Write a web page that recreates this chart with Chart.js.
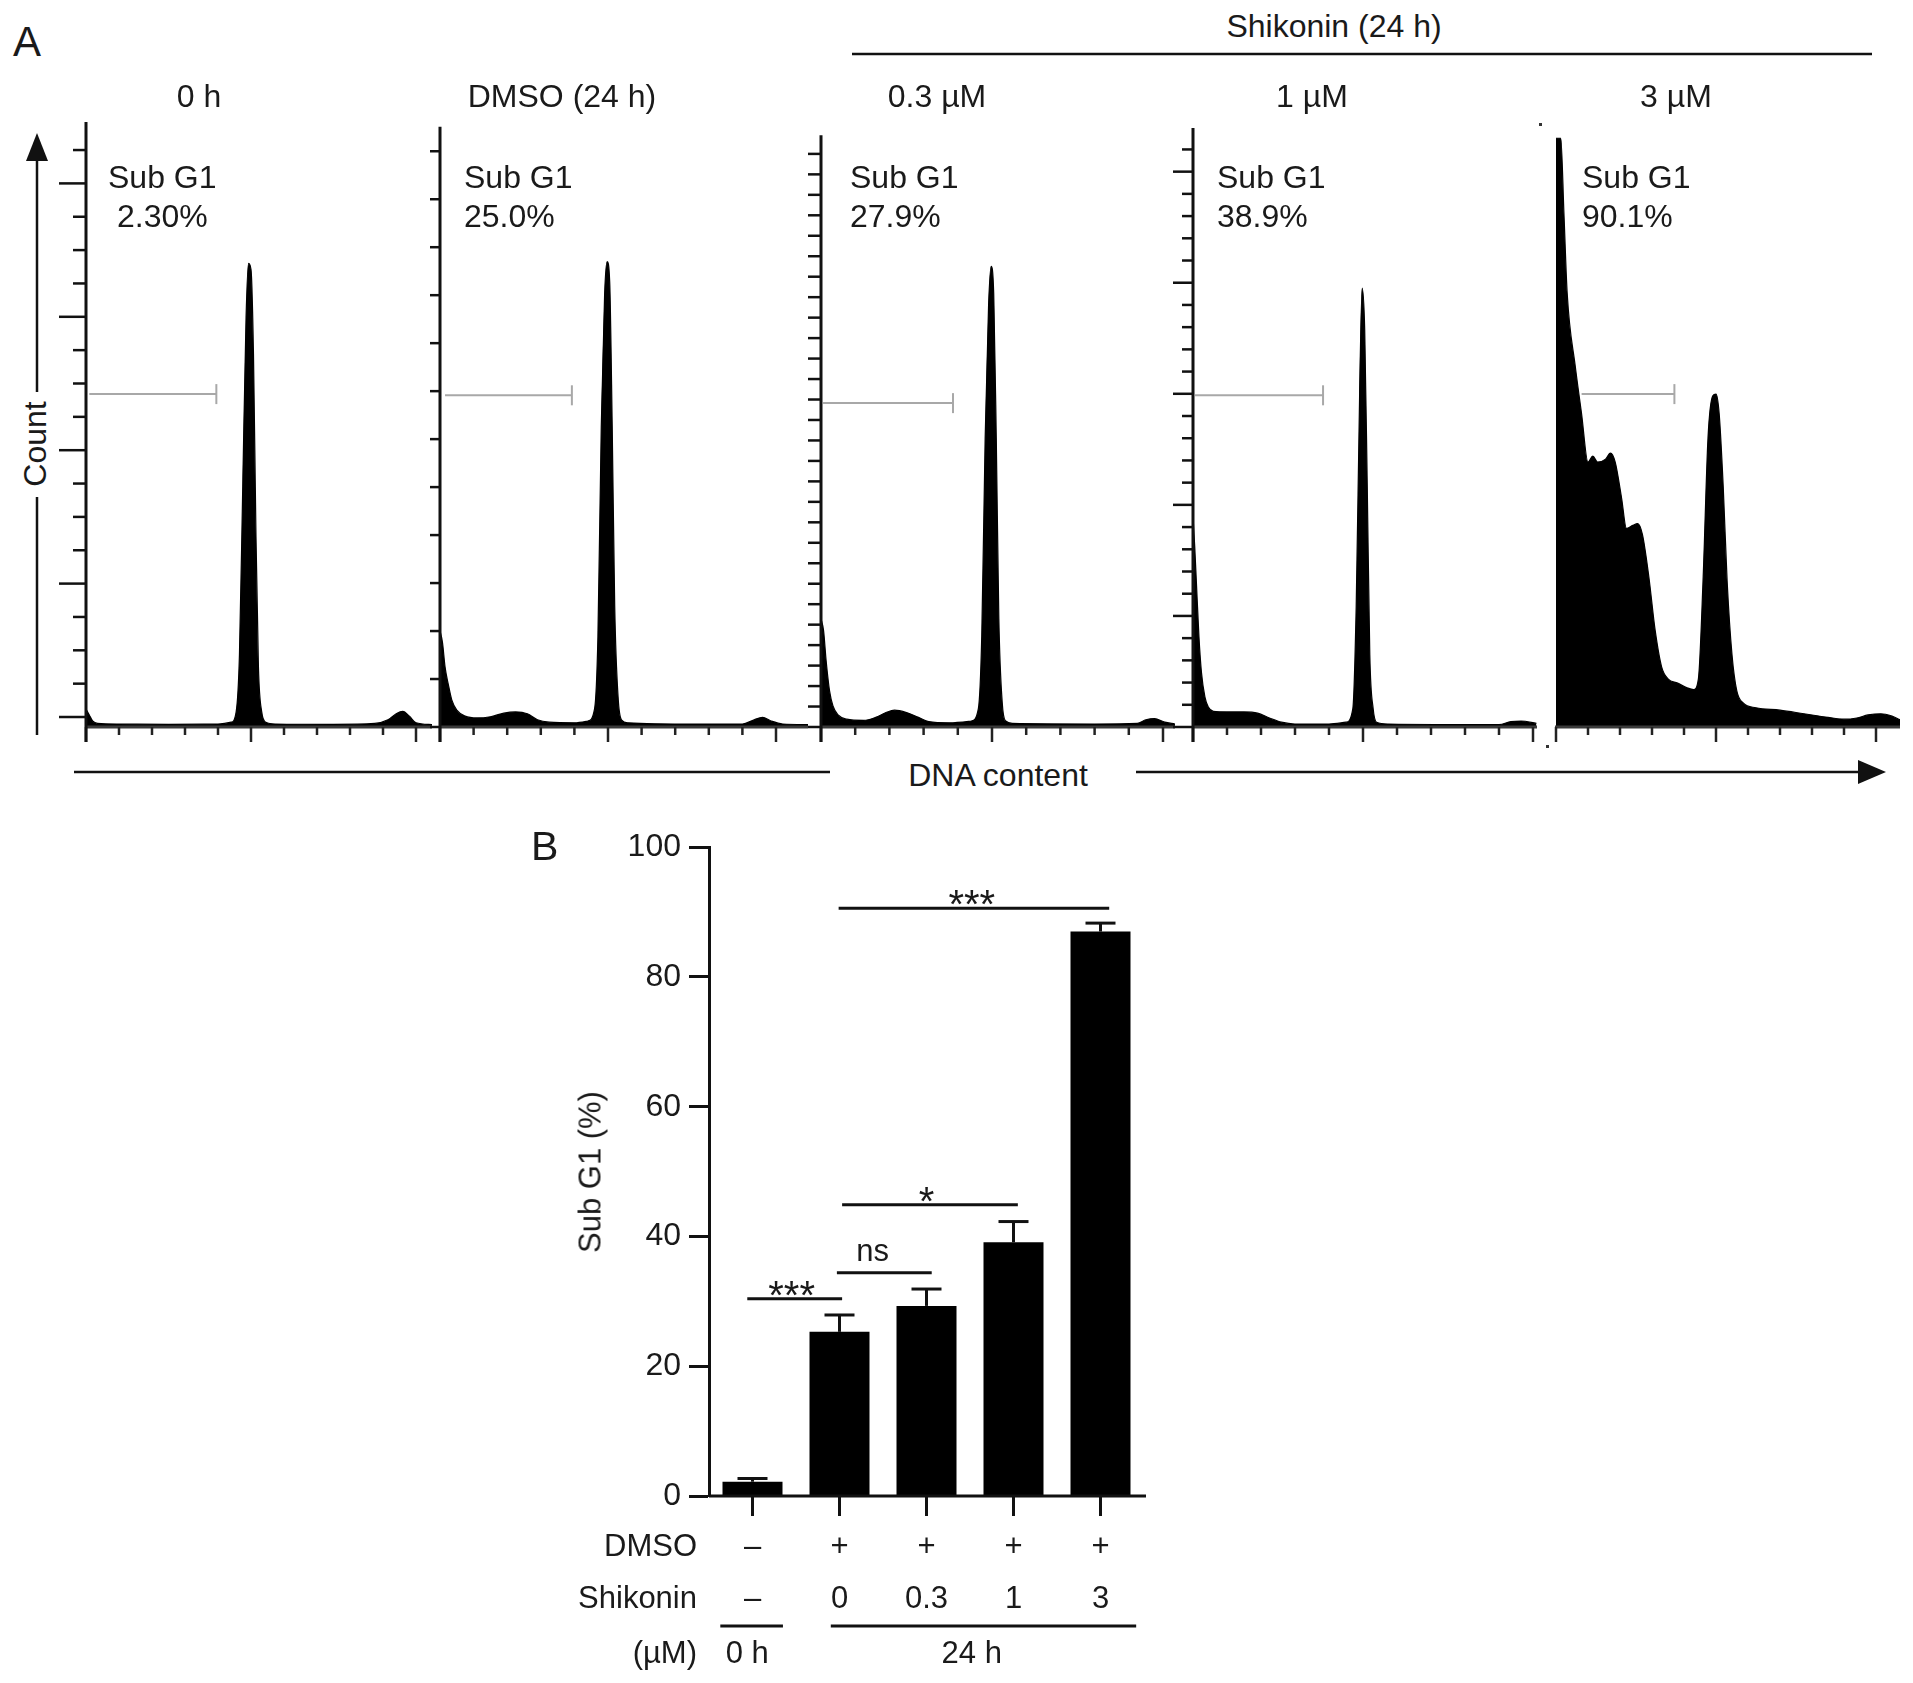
<!DOCTYPE html>
<html><head><meta charset="utf-8">
<script src="https://cdn.jsdelivr.net/npm/chart.js@4.4.0/dist/chart.umd.min.js"></script>
<style>
html,body{margin:0;padding:0;background:#fff;}
#page{position:relative;width:1913px;height:1683px;overflow:hidden;background:#fff;font-family:"Liberation Sans",Arial,Helvetica,sans-serif;color:#1a1a1a;}
canvas{position:absolute;}
.t{position:absolute;white-space:nowrap;line-height:1;}
svg{position:absolute;left:0;top:0;}
</style></head><body><div id="page"></div>
<script>
// ---------------- DATA ----------------
// Panel A: DNA histograms. x = DNA content (G1 peak = 100), y = count (% of axis height)
const panelTitles = ['0 h', 'DMSO (24 h)', '0.3 \u00b5M', '1 \u00b5M', '3 \u00b5M'];
const subG1Texts = ['2.30%', '25.0%', '27.9%', '38.9%', '90.1%'];
const groupTitle = 'Shikonin (24 h)';

const hist0h = [[0,3],[2,2],[4,1],[7,0.6],[20,0.5],[50,0.45],[80,0.5],[88,0.8],[91,2.5],[93,12],[95,40],[97,68],[98.5,77],[100,76],[101.5,62],[103,32],[104.5,10],[106.5,2.5],[109,0.8],[115,0.5],[150,0.45],[175,0.6],[183,1.2],[188,2.2],[192,2.6],[196,1.8],[200,0.7],[210,0.4]];
const histDMSO = [[0,16],[1.5,14],[3,10],[5,7],[7,4.5],[10,2.8],[15,1.8],[22,1.5],[30,1.7],[38,2.3],[45,2.5],[52,2.2],[58,1.2],[65,0.8],[80,0.7],[88,1],[92,3],[94,15],[96,50],[98,72],[99.5,77.3],[101,74],[102.5,50],[104,20],[106,5],[108,1.2],[112,0.7],[150,0.5],[180,0.5],[187,1.2],[192,1.6],[197,1.0],[204,0.5],[220,0.4]];
const hist03 = [[0,18],[1.5,16],[3,11],[5,6],[7,3.5],[10,2],[15,1.3],[25,1.1],[32,1.6],[38,2.4],[43,2.8],[50,2.4],[57,1.6],[63,0.9],[75,0.7],[88,1],[92,3],[94,15],[96,48],[98,70],[99.5,76.5],[101,72],[102.5,48],[104,18],[106,4],[108,1],[112,0.6],[160,0.5],[185,0.6],[190,1.2],[195,1.4],[201,0.8],[207,0.5]];
const hist1 = [[0,35],[1,30],[2,24],[3.5,15],[5,9],[7,5],[9,3.3],[12,2.6],[20,2.5],[30,2.5],[38,2.3],[45,1.5],[52,0.8],[60,0.5],[80,0.5],[90,0.8],[94,3],[96,20],[98,55],[99.5,72.9],[101,66],[102.5,40],[104,12],[106,3],[108,0.8],[115,0.5],[180,0.4],[187,0.9],[193,1.0],[202,0.6]];
const hist3 = [[0,97.8],[3,97.8],[5,85],[7,72],[12,60],[16,52],[20,44],[23,45],[26,44],[31,44.5],[34,45.5],[37,44],[41,38],[44,33],[48,33.5],[51,33.8],[54,32],[58,25],[62,16],[66,10],[70,8],[76,7.3],[82,6.5],[86,6.2],[89,8],[92,25],[95,48],[98,55],[100,55.3],[102,52],[104.5,40],[107,24],[110,12],[113,6],[117,4],[125,3.2],[140,2.8],[155,2.2],[170,1.6],[180,1.3],[188,1.5],[195,2],[203,2.2],[210,1.8],[215,1.2]];
const histograms = [hist0h, histDMSO, hist03, hist1, hist3];

// Sub G1 gate marker (x range and level)
const gateStart = [2, 3, 1.2, 1.2, 16];
const gateEnd   = [79, 78.5, 77.2, 76.5, 74];
const gateLevel = [55.3, 55.1, 53.8, 55.1, 55.3];

// Panel B: bar chart
const barCategories = ['0 h', 'DMSO 24 h', 'Shikonin 0.3', 'Shikonin 1', 'Shikonin 3'];
const dmsoRow = ['\u2013', '+', '+', '+', '+'];
const shikoninRow = ['\u2013', '0', '0.3', '1', '3'];
const subG1Mean = [2.2, 25.3, 29.3, 39.1, 87.0];
const subG1Err  = [0.5, 2.6, 2.6, 3.2, 1.3];
const yTicksB = [0, 20, 40, 60, 80, 100];
const sigFrom   = [-0.06, 0.97, 1.03, 0.99];
const sigTo     = [1.03, 2.06, 3.05, 4.1];
const sigLevel  = [30.4, 34.4, 44.9, 90.6];
const sigLabel  = ['***', 'ns', '*', '***'];
const sigLabelX = [0.45, 1.38, 2.0, 2.52];
const groupLabels = ['0 h', '24 h'];
const groupFrom = [-0.37, 0.90];
const groupTo   = [0.35, 4.41];
const groupLabelX = [-0.06, 2.52];

// ---------------- LAYOUT ----------------
const FONT = '"Liberation Sans", Arial, Helvetica, sans-serif';
const page = document.getElementById('page');
const BASE_Y = 727, TOP_Y = 125;
const frames = [
  {axis:86,  g1:251,  end:432,  yTop:100.5, tickOrigin:1.66, tickStep:5.54, majorEvery:4, majorLen:27, minorLen:13, showAxis:true},
  {axis:440, g1:608,  end:808,  yTop:99.7,  tickOrigin:0, tickStep:7.97, majorEvery:0, majorLen:10, minorLen:10, showAxis:true},
  {axis:821, g1:992,  end:1175, yTop:98.3,  tickOrigin:0, tickStep:3.4,  majorEvery:0, majorLen:13, minorLen:13, showAxis:true},
  {axis:1193,g1:1363, end:1537, yTop:99.5,  tickOrigin:0, tickStep:3.69, majorEvery:5, majorLen:20, minorLen:11, showAxis:true},
  {axis:1556,g1:1716, end:1900, yTop:100,   tickOrigin:0, tickStep:0,    majorEvery:0, majorLen:0,  minorLen:0,  showAxis:false}
];
const titleX = [199, 562, 937, 1312, 1676];
const subLabelX = [108, 464, 850, 1217, 1582];
const pctLabelX = [117, 464, 850, 1217, 1582];

function addText(txt, x, base, opt) {
  opt = opt || {};
  const fs = opt.size || 32;
  const d = document.createElement('div');
  d.className = 't';
  d.textContent = txt;
  d.style.fontSize = fs + 'px';
  d.style.top = (base - 0.8465 * fs) + 'px';
  d.style.left = x + 'px';
  if (opt.align === 'center') d.style.transform = 'translateX(-50%)';
  if (opt.align === 'right') d.style.transform = 'translateX(-100%)';
  page.appendChild(d);
}
function addRotText(txt, cx, cy, fs) {
  const d = document.createElement('div');
  d.className = 't';
  d.textContent = txt;
  d.style.fontSize = fs + 'px';
  d.style.left = cx + 'px';
  d.style.top = cy + 'px';
  d.style.transform = 'translate(-50%,-50%) rotate(-90deg)';
  page.appendChild(d);
}

function seg(ctx, x1, y1, x2, y2) { ctx.beginPath(); ctx.moveTo(x1, y1); ctx.lineTo(x2, y2); ctx.stroke(); }

// ---------------- PANEL A ----------------
const flowAxes = {
  id: 'flowAxes',
  afterDatasetsDraw(chart, args, o) {
    const ctx = chart.ctx, x = chart.scales.x, y = chart.scales.y;
    const x0 = x.getPixelForValue(0), yb = y.getPixelForValue(0);
    ctx.save();
    ctx.lineCap = 'butt';
    ctx.strokeStyle = '#3a3a3a'; ctx.lineWidth = 3;
    seg(ctx, x0 - 1, yb, x.right, yb);
    ctx.strokeStyle = '#222'; ctx.lineWidth = 2.5;
    for (let v = 0; v <= x.max + 0.01; v += 20) {
      const px = x.getPixelForValue(v);
      const len = (Math.round(v) % 100 === 0) ? 15 : 8;
      seg(ctx, px, yb, px, yb + len);
    }
    if (o.showAxis) {
      ctx.strokeStyle = '#111'; ctx.lineWidth = 3;
      seg(ctx, x0, y.getPixelForValue(o.yTop), x0, yb + 15);
      ctx.lineWidth = 2.5;
      for (let k = 0; ; k++) {
        const v = o.tickOrigin + k * o.tickStep;
        if (v > o.yTop - 0.5) break;
        const py = y.getPixelForValue(v);
        const len = (o.majorEvery && k % o.majorEvery === 0) ? o.majorLen : o.minorLen;
        seg(ctx, x0, py, x0 - len, py);
      }
    }
    const gy = y.getPixelForValue(o.gateLevel);
    const gx1 = x.getPixelForValue(o.gateStart), gx2 = x.getPixelForValue(o.gateEnd);
    ctx.strokeStyle = '#a8a8a8'; ctx.lineWidth = 2;
    seg(ctx, gx1, gy, gx2, gy);
    seg(ctx, gx2, gy - 10, gx2, gy + 10);
    ctx.restore();
  }
};

histograms.forEach((hist, i) => {
  const f = frames[i];
  const pxPerUnit = (f.g1 - f.axis) / 100;
  const xMax = (f.end - f.axis) / pxPerUnit;
  const padL = 32, padR = 4, padT = 25, padB = 22;
  const cv = document.createElement('canvas');
  const w = (f.end - f.axis) + padL + padR;
  const h = (BASE_Y - TOP_Y) + padT + padB;
  cv.width = w; cv.height = h;
  cv.style.width = w + 'px'; cv.style.height = h + 'px';
  cv.style.left = (f.axis - padL) + 'px';
  cv.style.top = (TOP_Y - padT) + 'px';
  page.appendChild(cv);
  new Chart(cv, {
    type: 'line',
    data: { datasets: [{
      data: hist.map(p => ({x: p[0], y: p[1]})),
      borderColor: '#000', backgroundColor: '#000', borderWidth: 1.2,
      fill: 'origin', pointRadius: 0, cubicInterpolationMode: 'monotone'
    }]},
    options: {
      responsive: false, animation: false, events: [],
      layout: { padding: {left: padL, right: padR, top: padT, bottom: padB} },
      plugins: {
        legend: {display: false}, tooltip: {enabled: false},
        flowAxes: Object.assign({}, f, {gateStart: gateStart[i], gateEnd: gateEnd[i], gateLevel: gateLevel[i]})
      },
      scales: {
        x: {type: 'linear', min: 0, max: xMax, display: false},
        y: {type: 'linear', min: 0, max: 100, display: false}
      }
    },
    plugins: [flowAxes]
  });
  addText(panelTitles[i], titleX[i], 107, {align: 'center'});
  addText('Sub G1', subLabelX[i], 188);
  addText(subG1Texts[i], pctLabelX[i], 227);
});

addText('A', 13, 57, {size: 42});
addText(groupTitle, 1334, 37, {align: 'center'});
addRotText('Count', 35, 444, 32);
addText('DNA content', 998, 786, {align: 'center'});

const svgNS = 'http://www.w3.org/2000/svg';
const svg = document.createElementNS(svgNS, 'svg');
svg.setAttribute('width', 1913); svg.setAttribute('height', 1683);
svg.innerHTML =
  '<g stroke="#111" stroke-width="2.5" fill="none">' +
  '<line x1="37" y1="158" x2="37" y2="392"/>' +
  '<line x1="37" y1="497" x2="37" y2="735"/>' +
  '<line x1="74" y1="772" x2="830" y2="772"/>' +
  '<line x1="1136" y1="772" x2="1862" y2="772"/>' +
  '<line x1="852" y1="54" x2="1872" y2="54"/>' +
  '</g>' +
  '<polygon points="37,133 26,161 48,161" fill="#111"/>' +
  '<polygon points="1886,772 1858,760 1858,784" fill="#111"/>' +
  '<rect x="1539" y="123" width="3" height="3" fill="#333"/>' +
  '<rect x="1546" y="745" width="3" height="3" fill="#333"/>';
page.appendChild(svg);

// ---------------- PANEL B ----------------
const B_LEFT = 500, B_TOP = 820, B_W = 700, B_H = 863;
const rowDmsoY = 1556 - B_TOP, rowShikY = 1608 - B_TOP, groupLineY = 1626 - B_TOP, groupTextY = 1663 - B_TOP;

const barDecor = {
  id: 'barDecor',
  afterDatasetsDraw(chart) {
    const ctx = chart.ctx, x = chart.scales.x, y = chart.scales.y;
    const y0 = y.getPixelForValue(0);
    ctx.save();
    ctx.strokeStyle = '#111'; ctx.fillStyle = '#1a1a1a'; ctx.lineWidth = 3; ctx.lineCap = 'butt';
    seg(ctx, x.left, y0, x.right + 2, y0);
    barCategories.forEach((c, i) => {
      const px = x.getPixelForValue(i);
      seg(ctx, px, y0, px, y0 + 20);
    });
    subG1Mean.forEach((m, i) => {
      const px = x.getPixelForValue(i);
      const yt = y.getPixelForValue(m + subG1Err[i]);
      seg(ctx, px, y.getPixelForValue(m), px, yt);
      seg(ctx, px - 15, yt, px + 15, yt);
    });
    sigLabel.forEach((lab, i) => {
      const ly = y.getPixelForValue(sigLevel[i]);
      seg(ctx, x.getPixelForValue(sigFrom[i]), ly, x.getPixelForValue(sigTo[i]), ly);
      ctx.textAlign = 'center'; ctx.textBaseline = 'alphabetic';
      if (lab === 'ns') {
        ctx.font = '31px ' + FONT;
        ctx.fillText(lab, x.getPixelForValue(sigLabelX[i]), ly - 12);
      } else {
        ctx.font = '40px ' + FONT;
        ctx.fillText(lab, x.getPixelForValue(sigLabelX[i]), ly + 10);
      }
    });
    ctx.font = '31px ' + FONT; ctx.textAlign = 'center'; ctx.textBaseline = 'alphabetic';
    dmsoRow.forEach((s, i) => ctx.fillText(s, x.getPixelForValue(i), rowDmsoY));
    shikoninRow.forEach((s, i) => ctx.fillText(s, x.getPixelForValue(i), rowShikY));
    groupLabels.forEach((g, i) => {
      seg(ctx, x.getPixelForValue(groupFrom[i]), groupLineY, x.getPixelForValue(groupTo[i]), groupLineY);
      ctx.fillText(g, x.getPixelForValue(groupLabelX[i]), groupTextY);
    });
    ctx.restore();
  }
};

(function () {
  const cv = document.createElement('canvas');
  cv.width = B_W; cv.height = B_H;
  cv.style.width = B_W + 'px'; cv.style.height = B_H + 'px';
  cv.style.left = B_LEFT + 'px'; cv.style.top = B_TOP + 'px';
  page.appendChild(cv);
  new Chart(cv, {
    type: 'bar',
    data: { labels: barCategories, datasets: [{
      data: subG1Mean, backgroundColor: '#000', borderWidth: 0,
      barPercentage: 60 / 87, categoryPercentage: 1
    }]},
    options: {
      responsive: false, animation: false, events: [],
      layout: { padding: {left: 0, right: 56, top: 24, bottom: B_H - (1496 - B_TOP)} },
      plugins: {legend: {display: false}, tooltip: {enabled: false}},
      scales: {
        x: {type: 'category', display: false, offset: true},
        y: {
          min: 0, max: 100, position: 'left',
          afterFit(s) { s.width = 709 - B_LEFT; },
          afterBuildTicks(s) { s.ticks = yTicksB.map(v => ({value: v})); },
          ticks: {font: {family: FONT, size: 32}, color: '#1a1a1a', padding: 8},
          grid: {drawOnChartArea: false, drawTicks: true, tickLength: 20, tickWidth: 3, tickColor: '#111'},
          border: {display: true, width: 3, color: '#111'}
        }
      }
    },
    plugins: [barDecor]
  });
})();

addText('B', 531, 861, {size: 41});
addRotText('Sub G1 (%)', 590, 1172, 31);
addText('DMSO', 697, 1556, {align: 'right', size: 31});
addText('Shikonin', 697, 1608, {align: 'right', size: 31});
addText('(\u00b5M)', 697, 1663, {align: 'right', size: 31});
</script>
</body></html>
